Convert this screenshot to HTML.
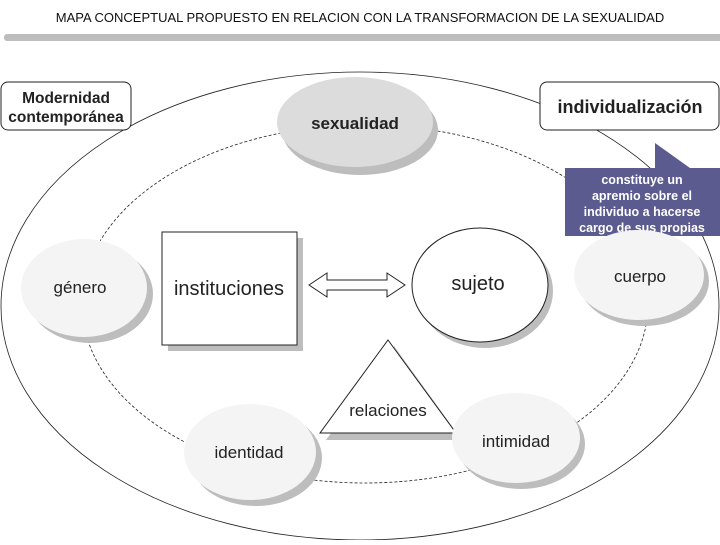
<!DOCTYPE html>
<html><head><meta charset="utf-8"><style>
html,body{margin:0;padding:0;background:#fff;}
svg text{font-family:"Liberation Sans",sans-serif;}
</style></head><body>
<svg width="720" height="540" viewBox="0 0 720 540" xmlns="http://www.w3.org/2000/svg">
<rect width="720" height="540" fill="#fff"/>
<text x="360" y="22" text-anchor="middle" font-size="13" fill="#111">MAPA CONCEPTUAL PROPUESTO EN RELACION CON LA TRANSFORMACION DE LA SEXUALIDAD</text>
<rect x="4" y="34" width="720" height="7" rx="3" fill="#bdbdbd"/>
<ellipse cx="360" cy="306" rx="359" ry="234" fill="none" stroke="#222" stroke-width="0.8"/>
<ellipse cx="365" cy="304" rx="283" ry="179" fill="none" stroke="#222" stroke-width="0.8" stroke-dasharray="3,2"/>
<rect x="1" y="82" width="130" height="48" rx="7" fill="#fff" stroke="#222"/>
<text x="66" y="103" text-anchor="middle" font-size="15.5" font-weight="bold" fill="#222">Modernidad</text>
<text x="66" y="122" text-anchor="middle" font-size="15.5" font-weight="bold" fill="#222">contemporánea</text>
<rect x="540" y="82" width="179" height="48" rx="7" fill="#fff" stroke="#222"/>
<text x="630" y="113" text-anchor="middle" font-size="18" font-weight="bold" fill="#222">individualización</text>
<ellipse cx="360" cy="130" rx="78" ry="45" fill="#bdbdbd"/>
<ellipse cx="355" cy="122" rx="78" ry="45" fill="#dcdcdc"/>
<text x="355" y="129" text-anchor="middle" font-size="17" font-weight="bold" fill="#222">sexualidad</text>
<ellipse cx="90" cy="294" rx="63" ry="49" fill="#bdbdbd"/>
<ellipse cx="84" cy="288" rx="63" ry="49" fill="#f4f4f4"/>
<text x="80" y="293" text-anchor="middle" font-size="17" fill="#222">género</text>
<rect x="168" y="238" width="135" height="113" fill="#bdbdbd"/>
<rect x="162" y="232" width="135" height="113" fill="#fff" stroke="#222"/>
<text x="229" y="295" text-anchor="middle" font-size="20" fill="#222">instituciones</text>
<path d="M309,285 L327,273 L327,280 L387,280 L387,273 L405,285 L387,297 L387,290 L327,290 L327,297 Z" fill="#fff" stroke="#222"/>
<ellipse cx="485" cy="291" rx="68" ry="57" fill="#bdbdbd"/>
<ellipse cx="480" cy="285" rx="68" ry="57" fill="#fff" stroke="#222"/>
<text x="478" y="290" text-anchor="middle" font-size="20" fill="#222">sujeto</text>
<path d="M565,168 L655,168 L655,143 L690,168 L720,168 L720,236 L565,236 Z" fill="#5b5b8f"/>
<g font-size="12.5" font-weight="bold" fill="#fff" text-anchor="middle">
<text x="642" y="184">constituye un</text>
<text x="642" y="200">apremio sobre el</text>
<text x="642" y="216">individuo a hacerse</text>
<text x="642" y="232">cargo de sus propias</text>
<text x="642" y="248">trayectorias</text>
<text x="642" y="264">biográficas</text>
</g>
<ellipse cx="644" cy="281" rx="65" ry="45" fill="#bdbdbd"/>
<ellipse cx="639" cy="275" rx="65" ry="45" fill="#f4f4f4"/>
<text x="640" y="282" text-anchor="middle" font-size="17" fill="#222">cuerpo</text>
<polygon points="394,346 462,440 326,440" fill="#bdbdbd"/>
<polygon points="388,340 456,433 320,433" fill="#fff" stroke="#222"/>
<text x="388" y="416" text-anchor="middle" font-size="17" fill="#222">relaciones</text>
<ellipse cx="256" cy="458" rx="66" ry="48" fill="#bdbdbd"/>
<ellipse cx="250" cy="452" rx="66" ry="48" fill="#f4f4f4"/>
<text x="249" y="458" text-anchor="middle" font-size="17" fill="#222">identidad</text>
<ellipse cx="521" cy="444" rx="64" ry="45" fill="#bdbdbd"/>
<ellipse cx="516" cy="438" rx="64" ry="45" fill="#f4f4f4"/>
<text x="516" y="447" text-anchor="middle" font-size="17" fill="#222">intimidad</text>
</svg>
</body></html>
